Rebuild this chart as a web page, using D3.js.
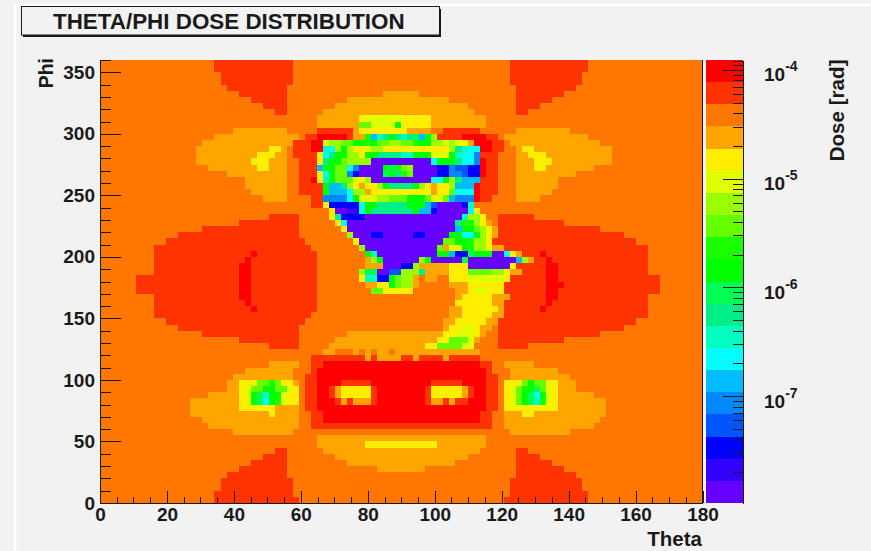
<!DOCTYPE html>
<html>
<head>
<meta charset="utf-8">
<script src="https://cdn.jsdelivr.net/npm/d3@7"></script>
<style>
	html, body { margin: 0; padding: 0; background: #f2f2f2; }
	svg { display: block; }
	text { font-family: "Liberation Sans", Arial, sans-serif; font-weight: bold; fill: #1a1a1a; }
	.axis path, .axis line { stroke: #1a1a1a; shape-rendering: crispEdges; }
	.axis text { font-size: 19px; font-family: "Liberation Sans", Arial, sans-serif; font-weight: bold; fill: #1a1a1a; }
</style>
</head>
<body>
<script>
var title = "THETA/PHI DOSE DISTRIBUTION";

// dose levels, lowest to highest, one letter each
var levels = "abcdefghijklmnopqrst".split("");
var levelColors = ["#6600ff", "#3300ff", "#0000ff", "#0055ff", "#0088ff", "#00bbff", "#00ffff", "#00ffc0", "#00ee88", "#00ff55",
	"#00ff00", "#1aff00", "#66ff00", "#99ff00", "#e0ff00", "#ffee00", "#ffa500", "#ff7700", "#ff3300", "#ff0000"];

var thetaBins = 100;
var phiBins = 72;

// dose level per bin, top row (phi 355-360) first, run length coded: level letter + number of theta bins
var doseRows = [
	"r19 s13 r36 s13 r19",
	"r19 s13 r36 s13 r19",
	"r20 s12 r36 s12 r20",
	"r20 s12 r36 s12 r20",
	"r21 s10 r38 s10 r21",
	"r23 s8 r16 q6 r16 s8 r23",
	"r25 s6 r10 q17 r11 s6 r25",
	"r27 s4 r8 q22 r8 s4 r27",
	"r29 s2 r6 q25 r7 s2 r29",
	"r36 q7 p1 o6 p5 q9 r36",
	"r36 q7 m2 o4 k1 p5 q9 r36",
	"r22 q9 r5 s6 q1 p8 q4 r2 s6 r6 q9 r22",
	"r19 q14 r1 s2 t5 s1 q2 l1 f1 h1 i1 k1 i1 h1 i1 j1 f1 k1 n1 s4 t4 s2 r1 q14 r19",
	"r17 q15 s3 t2 o1 n2 m2 k2 l1 k1 m2 n2 m2 l1 k2 n2 o1 n1 o1 p1 q1 t3 s2 r1 q15 r17",
	"r16 q12 p2 q1 r1 s3 t2 h1 g1 n1 k1 n1 p2 o1 n2 p11 n1 i1 h1 g2 t2 s2 r2 q1 p2 q13 r15",
	"r16 q10 p3 q2 r1 s4 p1 g1 i1 k2 n2 p1 k2 i4 h2 k3 o3 k1 h1 g2 e1 s3 r3 q2 p3 q11 r15",
	"r16 q9 p3 q3 r2 s3 p1 i1 k2 m1 n4 a10 g1 k3 i1 g2 e1 t1 s2 r3 q3 p3 q10 r15",
	"r18 q8 p2 q3 r2 s3 f1 k2 m2 g1 e1 a4 k1 j1 l1 m1 n1 a4 c2 e1 d2 c2 t1 s2 r3 q3 p2 q8 r18",
	"r21 q10 r2 s3 p1 g1 k1 m2 e1 c1 a4 j1 k1 i1 l1 m1 a4 c2 e2 d1 c2 t1 s2 r3 q10 r21",
	"r24 q7 r2 s2 t1 p1 h1 k1 m3 o1 p1 n1 a10 g2 k1 n1 i1 f3 s3 r3 q7 r24",
	"r24 q7 r2 s4 k1 f2 i1 n1 p1 q1 p2 n1 k1 i4 k1 n1 p1 q1 p2 n1 f3 t1 s3 r3 q7 r24",
	"r25 q6 r2 s4 k1 f3 g1 n2 q1 p10 q1 p2 m1 g3 t1 s3 r3 q6 r25",
	"r27 q4 r4 s2 e4 g1 k1 o3 n2 m3 k3 m1 o2 m1 f1 e3 t1 s2 r4 q4 r27",
	"r35 s2 p1 c5 g1 k2 i5 k3 f1 d1 a4 c1 h1 r38",
	"r38 p1 a2 b2 g1 k1 i7 k1 f2 c1 a5 g1 p1 r37",
	"r28 s5 r5 p1 i1 c4 a16 h1 n2 p1 r2 s6 r28",
	"r23 s10 r6 p1 g1 a18 i1 l2 n1 p1 q1 r1 s11 r23",
	"r17 s16 r7 p1 a18 f1 k2 m1 n1 p1 q1 s17 r17",
	"r13 s20 r8 n1 a3 c2 a5 c2 a4 k2 g2 k1 n1 p1 q1 s21 r13",
	"r11 s23 r8 p1 a14 m2 k2 l1 n2 p1 s24 r11",
	"r9 s26 r8 n1 a12 m1 q1 o2 k1 l1 n2 o1 q2 s24 r9",
	"r9 s16 t1 s10 r8 k1 h1 a10 k2 f1 c2 j1 k3 a2 g1 p1 q1 s3 t1 s17 r9",
	"r9 s15 t1 s11 r8 q1 n1 k1 a6 n1 k1 a5 j1 a8 f1 n1 q1 s2 t1 s16 r9",
	"r9 s14 t2 s11 r8 q3 a3 c2 n1 q5 p3 a7 p1 s5 t2 s15 r9",
	"r9 s14 t2 s11 r7 n1 j2 a2 d2 n3 i1 q4 p3 m4 n2 p1 q2 s4 t2 s15 r9",
	"r6 s17 t2 s11 r7 p1 h2 c2 k1 m1 n2 q1 r1 q2 r2 p3 o6 p1 s6 t2 s17 r7",
	"r6 s17 t2 s11 r8 q2 p2 k1 m1 n2 q1 r5 q3 p6 s7 t3 s16 r7",
	"r6 s17 t2 s11 r9 m2 p5 r7 q2 p1 o2 p3 s7 t2 s17 r7",
	"r9 s14 t2 s11 r23 q1 p5 q3 s6 t2 s15 r9",
	"r9 s15 t1 s11 r23 p6 q2 s7 t1 s16 r9",
	"r9 s16 t1 s10 r22 q2 p6 q1 s6 t1 s17 r9",
	"r9 s26 r23 q2 p5 q2 s24 r9",
	"r11 s23 r23 q2 p5 q2 s23 r11",
	"r13 s20 r24 q1 p2 o2 p1 q2 r1 s21 r13",
	"r17 s16 r8 q16 p2 o3 p1 q1 r2 s17 r17",
	"r23 s10 r6 q17 p2 m3 o1 q1 r3 s11 r23",
	"r28 s5 r5 q16 p2 m4 o2 r4 s5 r29",
	"r37 q2 r3 q1 r1 q1 r1 q2 r1 q14 r37",
	"r35 s9 q1 s1 q4 s2 q1 s4 q1 s5 r37",
	"r28 q5 r2 s2 t26 s2 r2 q5 r28",
	"r24 q8 r3 s1 t28 s1 r3 q8 r24",
	"r22 q10 r2 s2 t28 s2 r2 q10 r22",
	"r21 q2 p3 m2 l1 m1 p2 q1 r1 s2 t4 s5 t10 s5 t4 s2 r1 p3 m1 k1 m2 p2 q3 r21",
	"r21 q2 p1 o1 m2 k2 m2 o1 p1 r1 s2 t2 s1 q1 p5 s1 t8 s1 p5 q1 s1 t2 s2 r1 p1 o1 m1 l1 k1 j1 m1 o1 p1 q3 r21",
	"r18 q5 p1 o1 k1 j1 h1 k2 o1 p2 r1 s2 t2 s1 q1 p5 s1 t8 s1 p5 q1 s1 t2 s2 r1 p1 o1 m1 k1 j1 g1 k1 o1 p1 q6 r18",
	"r15 q8 p1 o1 k1 j1 g1 k1 l1 o1 p2 r1 s2 t3 s1 q1 s1 q3 s1 t8 s1 q2 s1 q1 s2 t3 s2 r1 p1 o1 m1 k1 j1 h1 l1 o1 p1 q8 r16",
	"r15 q8 p6 q4 r1 s2 t28 s2 r1 p9 q8 r16",
	"r15 q13 p1 q4 r2 s2 t26 s2 r2 q3 p2 q12 r16",
	"r17 q16 r2 s2 t26 s2 r2 q16 r17",
	"r18 q15 r2 s30 r2 q15 r18",
	"r22 q10 r36 q10 r22",
	"r36 q28 r36",
	"r36 q8 p12 q8 r36",
	"r29 s2 r6 q26 r6 s2 r29",
	"r27 s4 r8 q22 r8 s4 r27",
	"r25 s6 r10 q18 r10 s6 r25",
	"r23 s8 r15 q8 r15 s8 r23",
	"r21 s10 r38 s10 r21",
	"r20 s12 r36 s12 r20",
	"r20 s12 r36 s12 r20",
	"r19 s13 r36 s13 r19",
	"r19 s14 r34 s14 r19"
];

var thetaMajor = [0, 20, 40, 60, 80, 100, 120, 140, 160, 180];
var thetaMinor = d3.range(0, 181, 5);
var phiMajor = [0, 50, 100, 150, 200, 250, 300, 350];
var phiMinor = d3.range(0, 361, 10);
var doseMajor = [1e-4, 1e-5, 1e-6, 1e-7];
var doseMinor = [2e-8, 3e-8, 4e-8, 5e-8, 6e-8, 7e-8, 8e-8, 9e-8,
	2e-7, 3e-7, 4e-7, 5e-7, 6e-7, 7e-7, 8e-7, 9e-7,
	2e-6, 3e-6, 4e-6, 5e-6, 6e-6, 7e-6, 8e-6, 9e-6,
	2e-5, 3e-5, 4e-5, 5e-5, 6e-5, 7e-5, 8e-5, 9e-5, 1.1e-4, 1.2e-4];
var doseMin = 1.04e-8;
var doseMax = 1.23e-4;

var width = 871,
	height = 551,
	plot = {left: 100, right: 702.5, top: 60, bottom: 503},
	bar = {left: 706, right: 743};

var svg = d3.select("body").append("svg")
	.attr("width", width)
	.attr("height", height);

// canvas edge
svg.append("path")
	.attr("d", "M15,551V5H871")
	.attr("fill", "none")
	.attr("stroke", "#fff")
	.attr("stroke-width", 2.5);

var x = d3.scaleLinear().domain([0, 180]).range([plot.left, plot.right]);
var y = d3.scaleLinear().domain([0, 360]).range([plot.bottom, plot.top]);
var z = d3.scaleLog().domain([doseMin, doseMax]).range([plot.bottom, plot.top]);
var color = d3.scaleOrdinal().domain(levels).range(levelColors);

var thetaStep = 180 / thetaBins,
	phiStep = 360 / phiBins;

// runs of equal level become one rect
var runs = [];
doseRows.forEach(function(row, j) {
	var col = 0;
	row.split(" ").forEach(function(r) {
		var n = +r.slice(1);
		runs.push({level: r[0], theta: col * thetaStep, n: n, phi: 360 - (j + 1) * phiStep});
		col += n;
	});
});

svg.append("g").selectAll("rect")
	.data(runs)
	.enter().append("rect")
	.attr("x", function(d) { return x(d.theta); })
	.attr("y", function(d) { return y(d.phi + phiStep); })
	.attr("width", function(d) { return x(d.theta + d.n * thetaStep) - x(d.theta); })
	.attr("height", function(d) { return y(d.phi) - y(d.phi + phiStep); })
	.attr("fill", function(d) { return color(d.level); })
	.attr("shape-rendering", "crispEdges");

// axes
svg.append("g")
	.attr("class", "axis")
	.attr("transform", "translate(0," + plot.bottom + ")")
	.call(d3.axisBottom(x).tickValues(thetaMinor).tickSize(-6).tickFormat("").tickSizeOuter(0));

svg.append("g")
	.attr("class", "axis")
	.attr("transform", "translate(0," + plot.bottom + ")")
	.call(d3.axisBottom(x).tickValues(thetaMajor).tickSize(-12).tickSizeOuter(0).tickPadding(5).tickFormat(d3.format("d")));

svg.append("g")
	.attr("class", "axis")
	.attr("transform", "translate(" + plot.left + ",0)")
	.call(d3.axisLeft(y).tickValues(phiMinor).tickSize(-11).tickFormat("").tickSizeOuter(0));

svg.append("g")
	.attr("class", "axis")
	.attr("transform", "translate(" + plot.left + ",0)")
	.call(d3.axisLeft(y).tickValues(phiMajor).tickSize(-21).tickSizeOuter(0).tickPadding(5).tickFormat(d3.format("d")));

// right edge of the frame
svg.append("line")
	.attr("x1", plot.right).attr("x2", plot.right)
	.attr("y1", plot.top).attr("y2", plot.bottom)
	.attr("stroke", "#1a1a1a")
	.attr("shape-rendering", "crispEdges");

// colour bar
var logMin = Math.log10(doseMin),
	logStep = (Math.log10(doseMax) - logMin) / levels.length;

svg.append("g").selectAll("rect")
	.data(levels)
	.enter().append("rect")
	.attr("x", bar.left)
	.attr("width", bar.right - bar.left)
	.attr("y", function(d, i) { return z(Math.pow(10, logMin + (i + 1) * logStep)); })
	.attr("height", function(d, i) { return z(Math.pow(10, logMin + i * logStep)) - z(Math.pow(10, logMin + (i + 1) * logStep)); })
	.attr("fill", function(d) { return color(d); })
	.attr("shape-rendering", "crispEdges");

svg.append("g")
	.attr("class", "axis")
	.attr("transform", "translate(" + bar.right + ",0)")
	.call(d3.axisLeft(z).tickValues(doseMinor).tickSize(10).tickFormat("").tickSizeOuter(0));

svg.append("g")
	.attr("class", "axis")
	.attr("transform", "translate(" + bar.right + ",0)")
	.call(d3.axisLeft(z).tickValues(doseMajor).tickSize(20).tickFormat("").tickSizeOuter(0));

var doseLabel = svg.append("g").selectAll("text")
	.data(doseMajor)
	.enter().append("text")
	.attr("x", 764)
	.attr("y", function(d) { return z(d) + 11.5; })
	.style("font-size", "19px");

doseLabel.append("tspan").text("10");
doseLabel.append("tspan")
	.attr("dy", -10)
	.style("font-size", "14px")
	.text(function(d) { return Math.round(Math.log10(d)); });

// labels
svg.append("text")
	.attr("transform", "translate(53,58) rotate(-90)")
	.attr("text-anchor", "end")
	.style("font-size", "19.5px")
	.text("Phi");

svg.append("text")
	.attr("x", 702)
	.attr("y", 546)
	.attr("text-anchor", "end")
	.style("font-size", "20.5px")
	.text("Theta");

svg.append("text")
	.attr("transform", "translate(844,59.5) rotate(-90)")
	.attr("text-anchor", "end")
	.style("font-size", "20.6px")
	.text("Dose [rad]");

// title box
svg.append("rect")
	.attr("x", 23).attr("y", 9)
	.attr("width", 418).attr("height", 28)
	.attr("fill", "#1a1a1a");

svg.append("rect")
	.attr("x", 21.5).attr("y", 6.5)
	.attr("width", 418).attr("height", 28.5)
	.attr("fill", "#f2f2f2")
	.attr("stroke", "#1a1a1a")
	.attr("stroke-width", 1);

svg.append("text")
	.attr("x", 53)
	.attr("y", 29.3)
	.style("font-size", "22.4px")
	.text(title);
</script>
</body>
</html>
